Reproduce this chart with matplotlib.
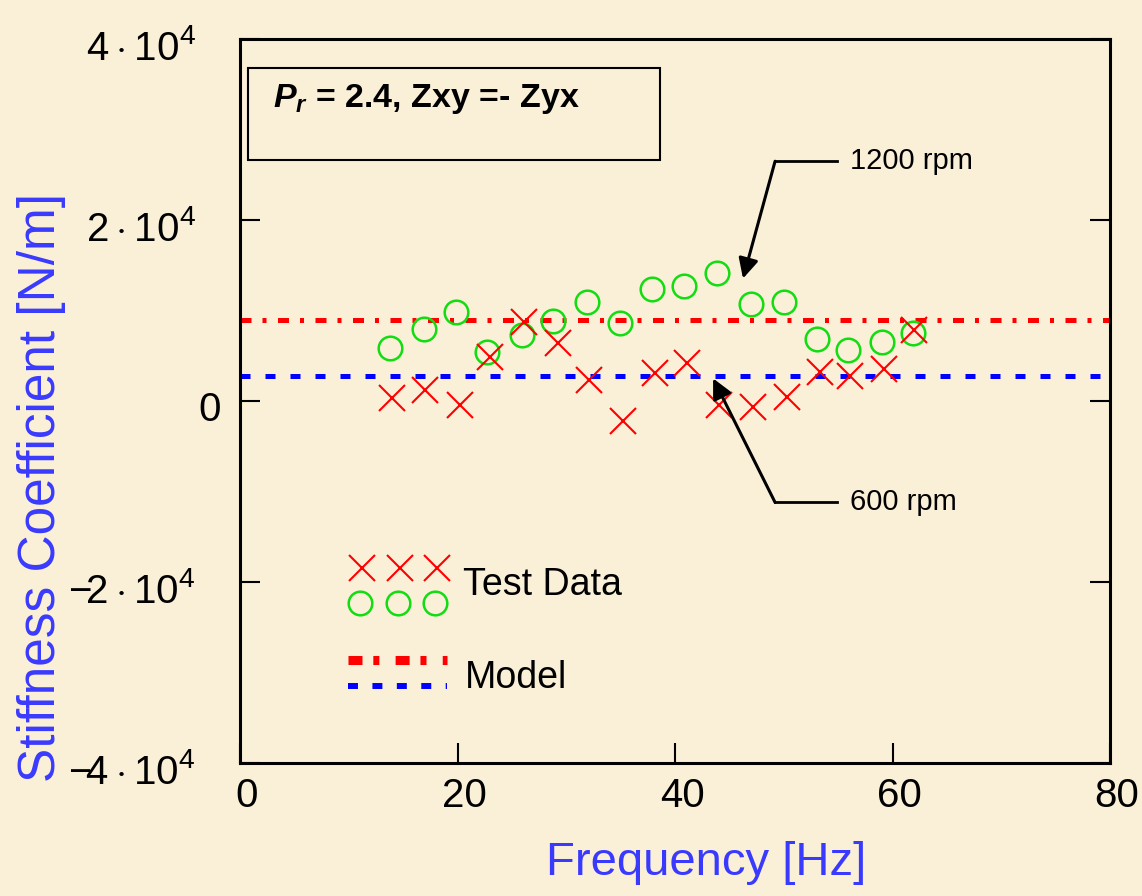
import matplotlib
matplotlib.use("Agg")
import matplotlib.pyplot as plt
import matplotlib.transforms as mtransforms
from matplotlib.patches import Rectangle

plt.rcParams['font.family'] = ['Liberation Sans', 'DejaVu Sans']
plt.rcParams['mathtext.fontset'] = 'custom'
plt.rcParams['mathtext.rm'] = 'Liberation Sans'
plt.rcParams['mathtext.it'] = 'Liberation Sans:italic:bold'
plt.rcParams['mathtext.bf'] = 'Liberation Sans:bold'

# test data, 600 rpm (crosses)
freq_600 = [14.0, 17.0, 20.2, 23.0, 26.1, 29.2, 32.1, 35.2, 38.2, 41.1, 44.0, 47.2, 50.3, 53.3, 56.1, 59.2, 62.0]
k_600 = [300, 1200, -400, 4900, 8700, 6400, 2300, -2200, 3100, 4200, -440, -660, 440, 3200, 2760, 3500, 7800]

# test data, 1200 rpm (circles)
freq_1200 = [13.8, 16.9, 19.9, 22.7, 25.9, 28.8, 31.9, 34.9, 37.9, 40.8, 43.9, 47.0, 50.0, 53.1, 55.9, 59.0, 61.9]
k_1200 = [5860, 7960, 9830, 5400, 7300, 8840, 10900, 8600, 12400, 12700, 14100, 10700, 10900, 6850, 5640, 6520, 7500]

# model (constant stiffness)
model_freq = [0, 80]
model_1200 = [8950, 8950]
model_600 = [2760, 2760]

xticks = [0, 20, 40, 60, 80]
yticks = [-4e4, -2e4, 0, 2e4, 4e4]
ytick_labels = [r'$-\!4\cdot10^4$', r'$-\!2\cdot10^4$', '0', r'$2\cdot10^4$', r'$4\cdot10^4$']

bg = '#faf0d8'
fig = plt.figure(figsize=(11.42, 8.96), dpi=100, facecolor=bg)
ax = fig.add_axes([0.2102, 0.1484, 0.7618, 0.808])
ax.set_facecolor(bg)

ax.plot(model_freq, model_1200, color='#ff0000', lw=3.6, dashes=(2.2, 2.2, 0.8, 2.3), solid_capstyle='butt')
ax.plot(model_freq, model_600, color='#0000ff', lw=3.6, dashes=(2, 3))
ax.plot(freq_1200, k_1200, 'o', ms=17, mfc='none', mec='#11dd11', mew=1.8)
ax.plot(freq_600, k_600, 'x', ms=19, color='#ff0000', mew=1.5)

ax.set_xlim(0, 80)
ax.set_ylim(-4e4, 4e4)
ax.set_xticks(xticks)
ax.set_yticks(yticks)
ax.set_yticklabels(ytick_labels)
ax.tick_params(direction='in', length=14.5, width=1.5, top=False, right=True, labelsize=29, colors='k')
ax.tick_params(axis='y', pad=32)
ax.tick_params(axis='x', pad=10)
for s in ax.spines.values():
    s.set_linewidth(2.2)

# small offsets for tick labels as in the original
off = mtransforms.ScaledTranslation(7 / 100, 0, fig.dpi_scale_trans)
for lab in ax.get_xticklabels():
    lab.set_transform(lab.get_transform() + off)
ylabs = ax.get_yticklabels()
yoff = mtransforms.ScaledTranslation(0, -5 / 100, fig.dpi_scale_trans)
for lab in ylabs:
    lab.set_transform(lab.get_transform() + yoff)
zoff = mtransforms.ScaledTranslation(25 / 100, 0, fig.dpi_scale_trans)
ylabs[2].set_transform(ylabs[2].get_transform() + zoff)

blue = '#3a3aff'
ax.set_xlabel('Frequency [Hz]', fontsize=34, color=blue)
ax.xaxis.set_label_coords(0.536, -0.108)
ax.set_ylabel('Stiffness Coefficient [N/m]', fontsize=37, color=blue)
ax.yaxis.set_label_coords(-0.2, 0.38)

# text box
ax.add_patch(Rectangle((0.0092, 0.833), 0.4736, 0.127, transform=ax.transAxes,
                       fill=False, lw=1.5, ec='k'))
ax.text(0.038, 0.917, r'$P_r$ = 2.4, Zxy =- Zyx', transform=ax.transAxes,
        fontsize=24.5, fontweight='bold', va='center', ha='left')

# annotations
ax.annotate('', xy=(46.25, 1.354e4), xytext=(49.2, 2.65e4),
            arrowprops=dict(arrowstyle='-|>', color='k', lw=2.2, shrinkA=0, shrinkB=0, mutation_scale=30))
ax.plot([49.2, 54.9], [2.65e4, 2.65e4], color='k', lw=2)
ax.text(56.1, 2.65e4, '1200 rpm', fontsize=21, va='center', ha='left')

ax.annotate('', xy=(43.5, 0.25e4), xytext=(49.2, -1.12e4),
            arrowprops=dict(arrowstyle='-|>', color='k', lw=2.2, shrinkA=0, shrinkB=0, mutation_scale=30))
ax.plot([49.2, 54.9], [-1.12e4, -1.12e4], color='k', lw=2)
ax.text(56.1, -1.12e4, '600 rpm', fontsize=21, va='center', ha='left')

# legend drawn by hand
lx = [0.140, 0.184, 0.226]
ax.plot(lx, [0.269] * 3, 'x', ms=19, color='#ff0000', mew=1.5, transform=ax.transAxes, clip_on=False)
ax.plot([x - 0.002 for x in lx], [0.221] * 3, 'o', ms=17, mfc='none', mec='#11dd11', mew=1.8,
        transform=ax.transAxes, clip_on=False)
ax.text(0.256, 0.246, 'Test Data', fontsize=27, va='center', ha='left', transform=ax.transAxes)
ax.plot([0.124, 0.238], [0.142, 0.142], color='#ff0000', lw=6.5, dashes=(1.55, 1.2, 0.67, 1.8),
        transform=ax.transAxes)
ax.plot([0.124, 0.238], [0.106, 0.106], color='#0000ff', lw=4.3, dashes=(1.67, 2.42),
        transform=ax.transAxes)
ax.text(0.258, 0.117, 'Model', fontsize=27, va='center', ha='left', transform=ax.transAxes)

fig.savefig('out.png', dpi=100, facecolor=bg)
